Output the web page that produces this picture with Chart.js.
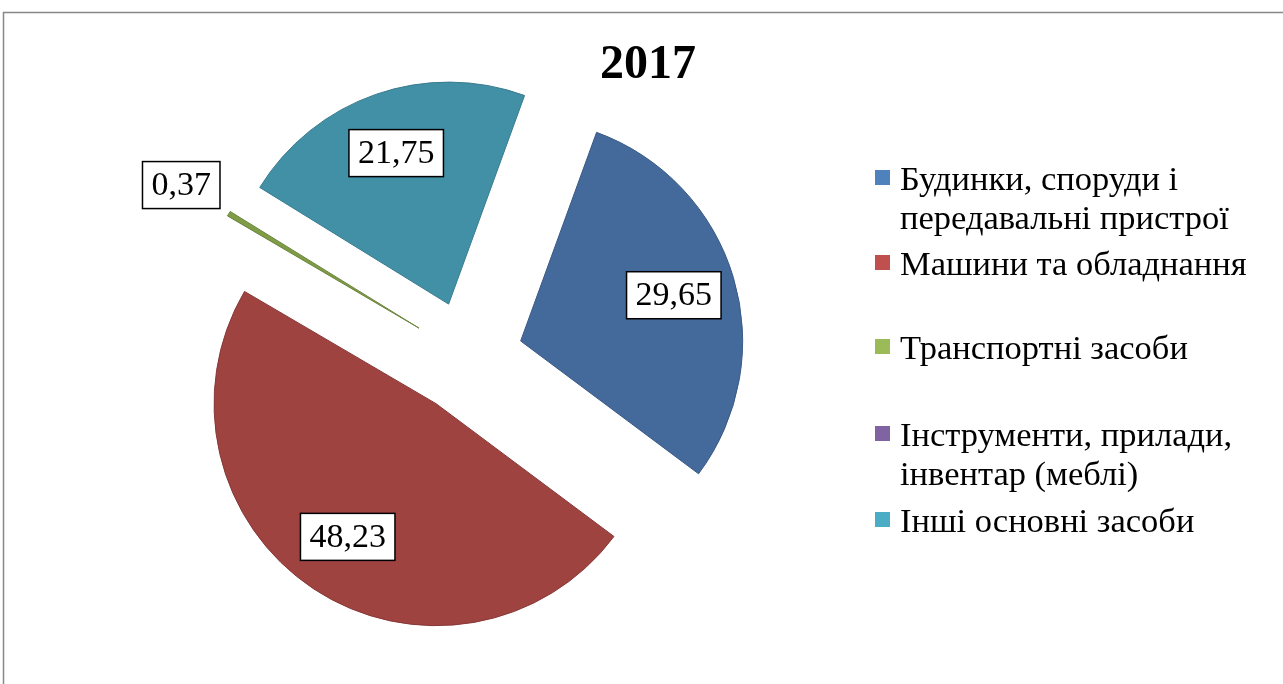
<!DOCTYPE html>
<html>
<head>
<meta charset="utf-8">
<script src="https://cdn.jsdelivr.net/npm/chart.js@4/dist/chart.umd.min.js"></script>
<style>
    html, body { margin: 0; padding: 0; background: #ffffff; }
    #wrap { width: 1283px; height: 684px; }
</style>
</head>
<body>
<div id="wrap"><canvas id="pieChart" width="1283" height="684"></canvas></div>
<script>
// 數據
const titleText = '2017';
const categories = [
    ['Будинки, споруди і', 'передавальні пристрої'],
    ['Машини та обладнання'],
    ['Транспортні засоби'],
    ['Інструменти, прилади,', 'інвентар (меблі)'],
    ['Інші основні засоби']
];
const values = [29.65, 48.23, 0.37, 0, 21.75];
const valueLabels = ['29,65', '48,23', '0,37', '', '21,75'];

// 顏色
const sliceColors = ['#44699b', '#9f4341', '#7f9c47', '#6a5289', '#4290a6'];
const sliceEdges = ['#3a5a86', '#873836', '#6c853c', '#5a4575', '#387b8e'];
const legendColors = ['#4f81bd', '#c0504d', '#9bbb59', '#8064a2', '#4bacc6'];

const SERIF = "'Liberation Serif', 'Times New Roman', serif";
const EXPLODE = 56;

/**
 * 分離扇形 - 每塊沿中線平移
 */
const explodePlugin = {
    id: 'explode',
    beforeDatasetDraw(chart, args) {
        const ctx = chart.ctx;
        args.meta.data.forEach(arc => {
            const mid = (arc.startAngle + arc.endAngle) / 2;
            ctx.save();
            ctx.translate(Math.cos(mid) * EXPLODE, Math.sin(mid) * EXPLODE);
            arc.draw(ctx);
            ctx.restore();
        });
        return false;
    }
};

/**
 * 外框、標題、數值標籤、圖例
 */
const decorPlugin = {
    id: 'decor',
    beforeDraw(chart) {
        const ctx = chart.ctx;
        ctx.save();
        ctx.fillStyle = '#ffffff';
        ctx.fillRect(0, 0, chart.width, chart.height);
        ctx.strokeStyle = '#888888';
        ctx.lineWidth = 1.5;
        ctx.strokeRect(3.5, 12.5, chart.width + 20, chart.height + 20);
        ctx.restore();
    },
    afterDraw(chart) {
        const ctx = chart.ctx;
        ctx.save();

        // 標題
        ctx.fillStyle = '#000000';
        ctx.font = 'bold 48px ' + SERIF;
        ctx.textAlign = 'center';
        ctx.textBaseline = 'alphabetic';
        ctx.fillText(titleText, 648, 78);

        // 數值標籤
        const meta = chart.getDatasetMeta(0);
        ctx.font = '34px ' + SERIF;
        meta.data.forEach((arc, i) => {
            const txt = valueLabels[i];
            if (!txt) return;
            const mid = (arc.startAngle + arc.endAngle) / 2;
            const dist = EXPLODE + arc.outerRadius * (values[i] < 1 ? 1.25 : 0.72);
            const cx = arc.x + Math.cos(mid) * dist;
            const cy = arc.y + Math.sin(mid) * dist;
            const w = ctx.measureText(txt).width + 18;
            const h = 47;
            ctx.fillStyle = '#ffffff';
            ctx.fillRect(cx - w / 2, cy - h / 2, w, h);
            ctx.strokeStyle = '#000000';
            ctx.lineWidth = 1.5;
            ctx.strokeRect(cx - w / 2, cy - h / 2, w, h);
            ctx.fillStyle = '#000000';
            ctx.textAlign = 'center';
            ctx.textBaseline = 'middle';
            ctx.fillText(txt, cx, cy + 1);
        });

        // 圖例
        const baselines = [190, 275, 359, 446, 532];
        const lineGap = 39;
        ctx.font = '34.5px ' + SERIF;
        ctx.textAlign = 'left';
        ctx.textBaseline = 'alphabetic';
        chart.data.labels.forEach((lines, i) => {
            const y = baselines[i];
            ctx.fillStyle = legendColors[i];
            ctx.fillRect(875, y - 20, 15, 15);
            ctx.fillStyle = '#000000';
            lines.forEach((line, j) => {
                ctx.fillText(line, 900, y + j * lineGap);
            });
        });

        ctx.restore();
    }
};

const pieChart = new Chart(document.getElementById('pieChart'), {
    type: 'pie',
    data: {
        labels: categories,
        datasets: [
            {
                data: values,
                backgroundColor: sliceColors,
                borderColor: sliceEdges,
                borderWidth: 1,
                hoverOffset: 0
            }
        ]
    },
    options: {
        responsive: false,
        animation: false,
        rotation: 20,
        radius: 222,
        layout: {
            padding: { left: 10, right: 359, top: 30, bottom: 0 }
        },
        plugins: {
            legend: { display: false },
            title: { display: false },
            tooltip: { enabled: false }
        },
        events: []
    },
    plugins: [explodePlugin, decorPlugin]
});
</script>
</body>
</html>
